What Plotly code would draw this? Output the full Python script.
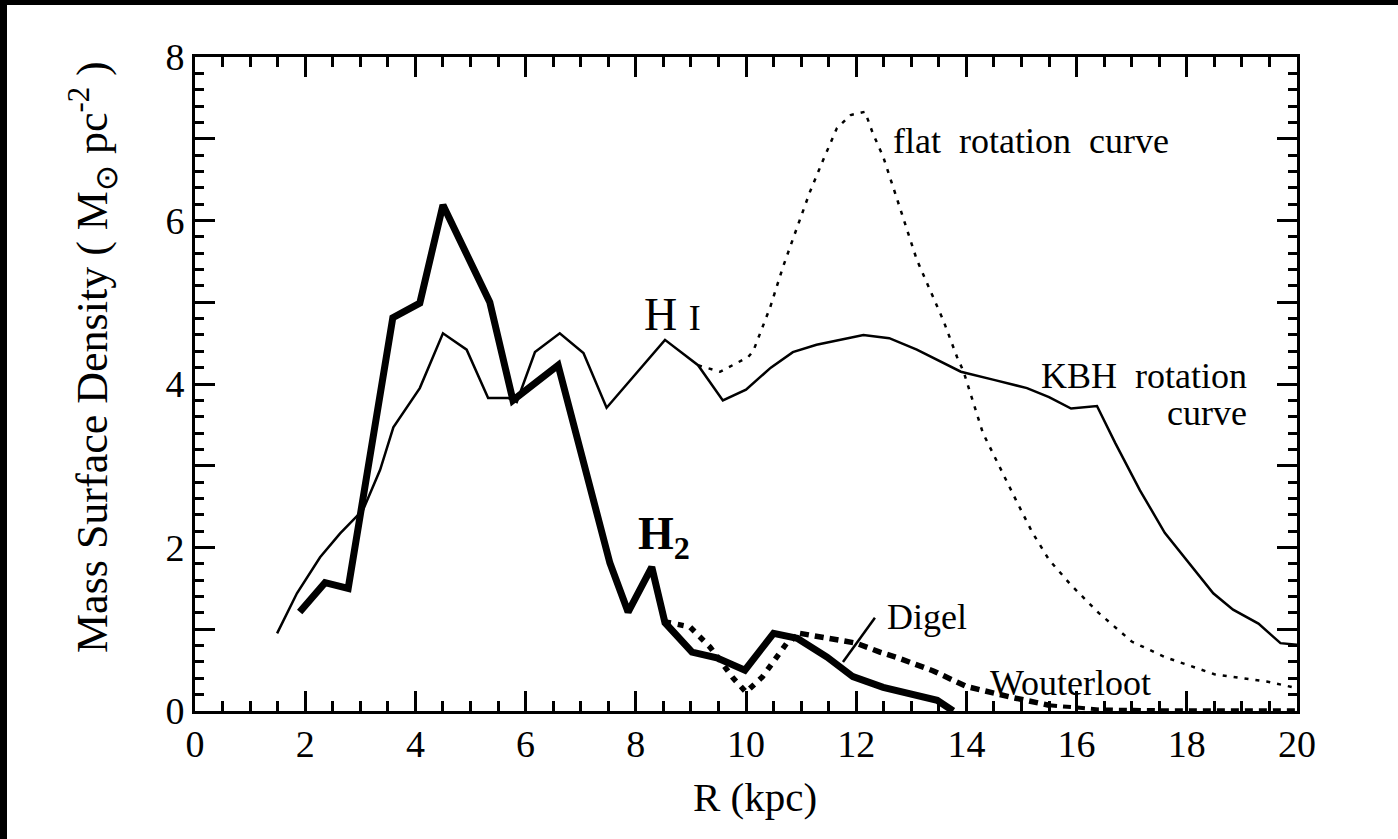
import plotly.graph_objects as go

# Galactocentric radius (kpc) and surface densities (M_sun pc^-2)
hi_kbh_r = [1.49, 1.85, 2.27, 2.63, 3.05, 3.36, 3.6, 4.08, 4.5, 4.93, 5.32, 5.68, 5.84,
            6.17, 6.62, 7.05, 7.47, 8.53, 9.13, 9.58, 10.0, 10.45, 10.85, 11.28, 12.13,
            12.6, 13.1, 13.9, 14.5, 15.1, 15.5, 15.9, 16.37, 16.7, 17.15, 17.6, 18.48,
            18.84, 19.3, 19.7, 20.0]
hi_kbh_sigma = [0.95, 1.44, 1.88, 2.17, 2.46, 2.95, 3.47, 3.95, 4.62, 4.42, 3.83, 3.83, 3.78,
                4.39, 4.62, 4.38, 3.71, 4.54, 4.23, 3.80, 3.93, 4.2, 4.39, 4.48, 4.6,
                4.56, 4.42, 4.15, 4.05, 3.95, 3.84, 3.7, 3.73, 3.28, 2.7, 2.18, 1.44,
                1.24, 1.07, 0.83, 0.81]

hi_flat_r = [9.13, 9.53, 10.04, 10.13, 10.44, 10.67, 10.93, 11.16, 11.4, 11.65, 11.9, 12.16,
             12.3, 12.49, 12.67, 12.85, 13.1, 13.34, 13.58, 13.83, 13.95, 14.3, 14.6, 14.9,
             15.2, 15.5, 15.9, 16.4, 17.0, 17.6, 18.5, 19.45, 20.0]
hi_flat_sigma = [4.23, 4.15, 4.33, 4.4, 4.94, 5.43, 5.92, 6.35, 6.74, 7.13, 7.29, 7.33,
                 7.07, 6.78, 6.41, 6.04, 5.52, 5.15, 4.78, 4.33, 4.15, 3.4, 2.98, 2.58,
                 2.18, 1.85, 1.54, 1.2, 0.85, 0.66, 0.45, 0.36, 0.28]

h2_r = [1.9, 2.36, 2.78, 3.59, 4.08, 4.5, 5.35, 5.77, 6.59, 7.53, 7.86, 8.29, 8.53, 9.02,
        9.47, 9.98, 10.5, 10.93, 11.47, 11.94, 12.49, 13.47, 13.76]
h2_sigma = [1.21, 1.57, 1.5, 4.81, 4.99, 6.19, 5.0, 3.80, 4.23, 1.81, 1.21, 1.76, 1.08, 0.72,
            0.65, 0.50, 0.95, 0.89, 0.66, 0.42, 0.29, 0.13, 0.0]

h2_digel_r = [8.53, 8.98, 9.35, 9.77, 10.0, 10.3, 10.74, 10.98]
h2_digel_sigma = [1.09, 1.03, 0.78, 0.40, 0.23, 0.42, 0.83, 0.95]

h2_wouterloot_r = [10.98, 12.0, 12.43, 12.8, 13.4, 14.0, 14.8, 15.5]
h2_wouterloot_sigma = [0.95, 0.83, 0.72, 0.64, 0.49, 0.3, 0.17, 0.07]

h2_tail_r = [15.5, 16.4, 17.5, 18.5, 20.0]
h2_tail_sigma = [0.07, 0.02, 0.01, 0.01, 0.01]

x_ticks = [0, 2, 4, 6, 8, 10, 12, 14, 16, 18, 20]
y_ticks_labelled = [0, 2, 4, 6, 8]
y_ticks_unlabelled = [1, 3, 5, 7]

# pointer from the "Digel" label down to the curve
digel_pointer = dict(x0=11.76, y0=0.6, x1=12.34, y1=1.14)

FONT = "Liberation Serif"
W, H = 1398, 839
L, R, T, B = 195, 101, 57, 128
PW, PH = W - L - R, H - T - B


def px(p):
    return (p - L) / PW


def py(p):
    return (H - B - p) / PH


fig = go.Figure()
fig.add_trace(go.Scatter(x=hi_kbh_r, y=hi_kbh_sigma, mode="lines",
                         line=dict(color="black", width=2.5)))
fig.add_trace(go.Scatter(x=hi_flat_r, y=hi_flat_sigma, mode="lines",
                         line=dict(color="black", width=2.5, dash="4px,7px")))
fig.add_trace(go.Scatter(x=h2_digel_r, y=h2_digel_sigma, mode="lines",
                         line=dict(color="black", width=5.5, dash="6px,7px")))
fig.add_trace(go.Scatter(x=h2_wouterloot_r, y=h2_wouterloot_sigma, mode="lines",
                         line=dict(color="black", width=5.5, dash="9px,6px")))
fig.add_trace(go.Scatter(x=h2_tail_r, y=h2_tail_sigma, mode="lines",
                         line=dict(color="black", width=4, dash="8px,6px")))
fig.add_trace(go.Scatter(x=h2_r, y=h2_sigma, mode="lines",
                         line=dict(color="black", width=7)))

axis_common = dict(
    showline=True, linecolor="black", linewidth=3, mirror="ticks",
    ticks="inside", ticklen=20, tickwidth=2.5, tickcolor="black",
    showgrid=False, zeroline=False,
    tickfont=dict(family=FONT, size=38, color="black"),
)
fig.update_xaxes(range=[0, 20], tickvals=x_ticks, ticklabelstandoff=-3,
                 minor=dict(dtick=0.5, ticks="inside", ticklen=10, tickwidth=2.5,
                            tickcolor="black", showgrid=False),
                 **axis_common)
fig.update_yaxes(range=[0, 8], tickvals=y_ticks_labelled,
                 minor=dict(dtick=0.2, ticks="inside", ticklen=9, tickwidth=2.5,
                            tickcolor="black", showgrid=False),
                 **axis_common)
# long unlabelled ticks at the odd integers
fig.update_layout(yaxis2=dict(
    overlaying="y", side="left", range=[0, 8], tickvals=y_ticks_unlabelled,
    showticklabels=False, showline=True, linecolor="black", linewidth=3,
    mirror="ticks", ticks="inside", ticklen=20, tickwidth=2.5, tickcolor="black",
    showgrid=False, zeroline=False,
))
fig.add_trace(go.Scatter(x=[None], y=[None], yaxis="y2", showlegend=False,
                         hoverinfo="skip"))

ann = []


def label(text, x, y, size, xanchor="left", angle=0):
    ann.append(dict(text=text, x=x, y=y, xref="paper", yref="paper", showarrow=False,
                    xanchor=xanchor, yanchor="middle", textangle=angle,
                    font=dict(family=FONT, size=size, color="black")))


label("R (kpc)", px(755), py(797), 41, xanchor="center")
label("Mass Surface Density ( M<sub>\u2299</sub> pc<sup>-2</sup> )", px(93), py(357), 44,
      xanchor="center", angle=-90)
label("flat  rotation  curve", px(891), py(141), 36)
label("KBH  rotation", px(1249), py(376), 36, xanchor="right")
label("curve", px(1249), py(413), 36, xanchor="right")
label("H <span style='font-size:36px'>I</span>", px(642), py(314), 46)
label("<b>H<sub>2</sub></b>", px(636), py(537), 46)
label("Digel", px(885), py(617), 36)
label("Wouterloot", px(988), py(683), 36)
fig.update_layout(annotations=ann)

fig.add_shape(type="line", xref="x", yref="y", line=dict(color="black", width=2.5),
              **digel_pointer)
# dark scan edges along the top and left of the page
fig.add_shape(type="rect", xref="paper", yref="paper", layer="above",
              x0=px(0), x1=px(7), y0=py(H), y1=py(0), fillcolor="black", line_width=0)
fig.add_shape(type="rect", xref="paper", yref="paper", layer="above",
              x0=px(0), x1=px(W), y0=py(5), y1=py(0), fillcolor="black", line_width=0)

fig.update_layout(
    width=W, height=H,
    margin=dict(l=L, r=R, t=T, b=B, pad=0),
    paper_bgcolor="white", plot_bgcolor="white",
    showlegend=False,
)

fig.write_html("out.html")
